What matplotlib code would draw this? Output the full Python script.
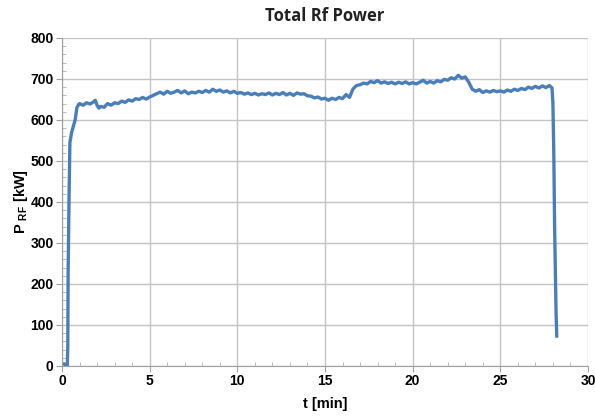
import numpy as np
import matplotlib.pyplot as plt
from matplotlib.ticker import MultipleLocator

plt.rcParams['font.family'] = ['Liberation Sans', 'DejaVu Sans']
plt.rcParams['mathtext.fontset'] = 'custom'
plt.rcParams['mathtext.bf'] = 'Liberation Sans:bold'
plt.rcParams['mathtext.rm'] = 'Liberation Sans:bold'

# time [min] and total RF power [kW]
t_min = [
    0.0, 0.15, 0.2, 0.3, 0.33, 0.35, 0.40, 0.45, 0.55, 0.65, 0.75, 0.85, 0.95,
    1.0, 1.2, 1.4, 1.6, 1.8, 1.9, 2.0, 2.1, 2.2, 2.4, 2.6, 2.8,
    3.0, 3.2, 3.4, 3.6, 3.8, 4.0, 4.2, 4.4, 4.6, 4.8,
    5.0, 5.2, 5.4, 5.6, 5.8, 6.0, 6.2, 6.4, 6.6, 6.8,
    7.0, 7.2, 7.4, 7.6, 7.8, 8.0, 8.2, 8.4, 8.6, 8.8,
    9.0, 9.2, 9.4, 9.6, 9.8, 10.0, 10.2, 10.4, 10.6, 10.8,
    11.0, 11.2, 11.4, 11.6, 11.8, 12.0, 12.2, 12.4, 12.6, 12.8,
    13.0, 13.2, 13.4, 13.6, 13.8, 14.0, 14.2, 14.4, 14.6, 14.8,
    15.0, 15.2, 15.4, 15.6, 15.8, 16.0, 16.2, 16.4, 16.6, 16.8,
    17.0, 17.2, 17.4, 17.6, 17.8, 18.0, 18.2, 18.4, 18.6, 18.8,
    19.0, 19.2, 19.4, 19.6, 19.8, 20.0, 20.2, 20.4, 20.6, 20.8,
    21.0, 21.2, 21.4, 21.6, 21.8, 22.0, 22.2, 22.4, 22.6, 22.8,
    23.0, 23.2, 23.4, 23.6, 23.8, 24.0, 24.2, 24.4, 24.6, 24.8,
    25.0, 25.2, 25.4, 25.6, 25.8, 26.0, 26.2, 26.4, 26.6, 26.8,
    27.0, 27.2, 27.4, 27.6, 27.8, 27.95, 28.0, 28.05, 28.1, 28.15,
    28.18, 28.22,
]
p_rf = [
    5, 5, 0, 0, 45, 230, 405, 545, 570, 585, 600, 630, 638,
    640, 636, 642, 639, 644, 648, 636, 629, 633, 631, 640, 636,
    642, 640, 646, 643, 649, 646, 652, 650, 655, 651,
    656, 660, 664, 668, 663, 670, 665, 668, 672, 666,
    671, 664, 668, 666, 670, 667, 672, 668, 675, 670,
    673, 668, 671, 666, 670, 665, 667, 663, 666, 662,
    665, 661, 664, 662, 666, 661, 665, 662, 667, 661,
    665, 660, 666, 663, 664, 659, 658, 654, 656, 651,
    653, 648, 653, 650, 655, 652, 662, 655, 676, 684,
    686, 690, 688, 694, 691, 696, 690, 693, 689, 692,
    688, 692, 689, 693, 688, 691, 688, 692, 697, 690,
    694, 690, 696, 693, 699, 697, 703, 700, 709, 702,
    705, 692, 675, 670, 674, 667, 671, 668, 672, 669,
    671, 668, 673, 670, 675, 672, 677, 674, 680, 677,
    682, 678, 683, 679, 684, 678, 640, 520, 330, 200,
    130, 73,
]

fig = plt.figure(figsize=(5.95, 4.16), dpi=100)
ax = fig.add_axes([0.1042, 0.1202, 0.8840, 0.7885])

ax.plot(t_min, p_rf, color='#4a7ebb', lw=2.4, solid_joinstyle='round')

ax.set_xlim(0, 30)
ax.set_ylim(0, 800)
ax.xaxis.set_major_locator(MultipleLocator(5))
ax.xaxis.set_minor_locator(MultipleLocator(1))
ax.yaxis.set_major_locator(MultipleLocator(100))
ax.yaxis.set_minor_locator(MultipleLocator(20))

ax.grid(True, which='major', color='#c4c4c4', lw=1.0)
ax.set_axisbelow(True)
for side in ['top', 'right']:
    ax.spines[side].set_visible(False)
for side in ['left', 'bottom']:
    ax.spines[side].set_color('#a0a0a0')

ax.tick_params(which='major', direction='out', length=4, color='#a0a0a0',
               labelsize=10, pad=2)
ax.tick_params(which='minor', direction='in', length=3, color='#b0b0b0')
for lab in ax.get_xticklabels() + ax.get_yticklabels():
    lab.set_fontweight('bold')

ax.set_title('Total Rf Power', fontsize=12, fontweight='bold',
             family=['Open Sans', 'DejaVu Sans'], color='#222222', pad=12)
ax.set_xlabel('t [min]', fontsize=10.5, fontweight='bold', labelpad=6)
ax.set_ylabel(r'P $_{\mathbf{RF}}$ [kW]', fontsize=10.5, fontweight='bold',
              labelpad=0)

fig.savefig('out.png', dpi=100)
